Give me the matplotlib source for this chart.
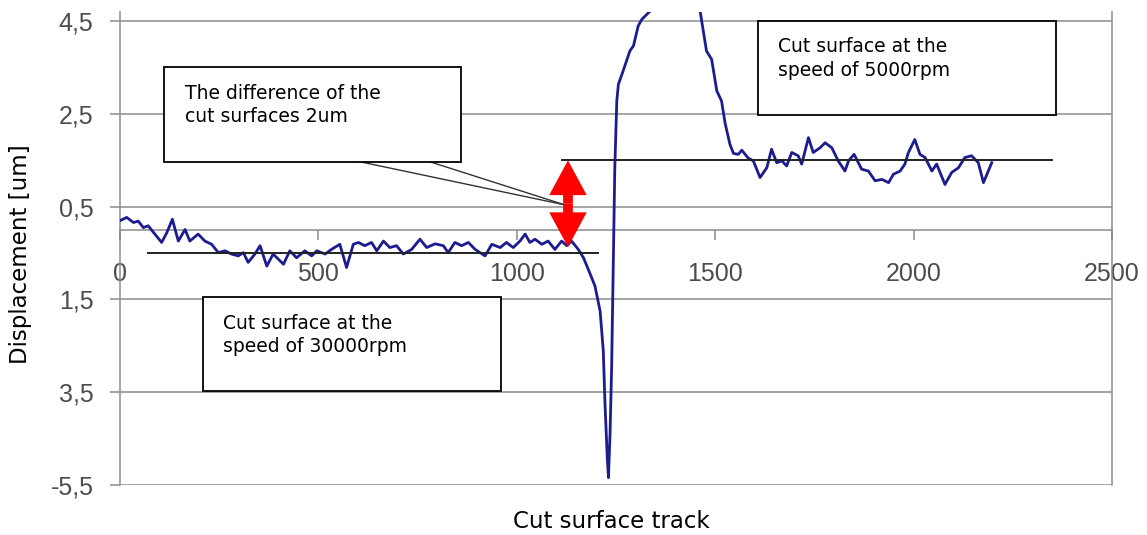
import matplotlib.pyplot as plt
from matplotlib.patches import Rectangle, FancyArrowPatch

track = [0, 17, 34, 46, 59, 71, 88, 105, 118, 132, 147, 164, 176, 197, 214, 231,
         248, 265, 281, 298, 311, 323, 340, 353, 370, 386, 412, 428, 445, 466, 483,
         496, 517, 533, 554, 571, 588, 601, 617, 634, 647, 664, 680, 697, 714, 735,
         756, 773, 794, 815, 827, 844, 861, 878, 895, 920, 937, 958, 974, 991, 1008,
         1021, 1033, 1046, 1063, 1079, 1096, 1113, 1126, 1138, 1155, 1168, 1184,
         1197, 1210, 1218, 1222, 1228, 1231, 1235, 1239, 1243, 1247, 1252, 1256,
         1268, 1285, 1294, 1306, 1315, 1336, 1370, 1400, 1430, 1462, 1470, 1478,
         1491, 1504, 1516, 1525, 1537, 1546, 1558, 1567, 1583, 1596, 1613, 1630,
         1642, 1655, 1668, 1680, 1693, 1709, 1718, 1735, 1747, 1764, 1777, 1794,
         1810, 1827, 1836, 1850, 1869, 1886, 1903, 1920, 1937, 1949, 1966, 1978,
         1987, 2003, 2016, 2029, 2046, 2058, 2079, 2096, 2113, 2129, 2146, 2163,
         2176, 2197]
displacement = [0.20, 0.27, 0.16, 0.19, 0.05, 0.09, -0.09, -0.27, -0.06, 0.23, -0.24,
                0.01, -0.24, -0.09, -0.24, -0.31, -0.49, -0.45, -0.52, -0.56, -0.49,
                -0.70, -0.52, -0.34, -0.78, -0.52, -0.74, -0.45, -0.60, -0.45, -0.56,
                -0.45, -0.52, -0.42, -0.31, -0.81, -0.31, -0.27, -0.34, -0.27, -0.45,
                -0.24, -0.38, -0.34, -0.52, -0.42, -0.20, -0.38, -0.30, -0.34, -0.49,
                -0.27, -0.34, -0.27, -0.42, -0.56, -0.31, -0.38, -0.27, -0.38, -0.24,
                -0.09, -0.27, -0.20, -0.31, -0.24, -0.42, -0.24, -0.34, -0.24, -0.42,
                -0.60, -0.93, -1.21, -1.75, -2.61, -3.69, -4.91, -5.34, -4.40, -2.97,
                -0.81, 1.34, 2.78, 3.14, 3.43, 3.86, 3.97, 4.40, 4.54, 4.72, 5.10, 5.30,
                5.10, 4.72, 4.29, 3.86, 3.68, 3.00, 2.78, 2.30, 1.85, 1.65, 1.63, 1.72,
                1.55, 1.49, 1.13, 1.34, 1.74, 1.45, 1.49, 1.38, 1.67, 1.60, 1.42, 1.99,
                1.67, 1.77, 1.88, 1.77, 1.49, 1.27, 1.49, 1.63, 1.31, 1.27, 1.06, 1.09,
                1.02, 1.20, 1.27, 1.42, 1.67, 1.95, 1.63, 1.56, 1.27, 1.42, 0.98, 1.24,
                1.34, 1.56, 1.60, 1.45, 1.02, 1.45]

x_ticks = [0, 500, 1000, 1500, 2000, 2500]
y_ticks = [4.5, 2.5, 0.5, -1.5, -3.5, -5.5]
y_tick_labels = ['4,5', '2,5', '0,5', '1,5', '3,5', '-5,5']

level_30000 = -0.5   # mean level of the 30000rpm surface
level_5000 = 1.5     # mean level of the 5000rpm surface
arrow_bottom = -0.37

grid_col = '#8c8c8c'

fig = plt.figure(figsize=(11.47, 5.35), dpi=100)
ax = fig.add_axes([0.1046, 0.0935, 0.8649, 0.8841])

ax.plot(track, displacement, color='#1c1c90', lw=2.0, zorder=3)

ax.set_xlim(0, 2500)
ax.set_ylim(-5.5, 4.7)

ax.set_yticks(y_ticks)
ax.set_yticklabels(y_tick_labels)
ax.set_xticks(x_ticks)
ax.yaxis.grid(True, color=grid_col, lw=1.1)
ax.set_axisbelow(True)

for side in ['left', 'right', 'bottom']:
    ax.spines[side].set_color(grid_col)
    ax.spines[side].set_linewidth(1.1)
ax.spines['top'].set_visible(False)
ax.spines['bottom'].set_position(('data', 0))

ax.tick_params(axis='y', direction='out', length=7, width=1.1, color=grid_col,
               pad=12, labelsize=18, labelcolor='#4d4d4d')
ax.tick_params(axis='x', direction='out', length=7, width=1.1, color=grid_col,
               pad=16, labelsize=18, labelcolor='#4d4d4d')
for lab in ax.get_xticklabels() + ax.get_yticklabels():
    lab.set_fontfamily('Liberation Sans')

# reference levels
ax.plot([70, 1204], [level_30000, level_30000], color='#222222', lw=1.4, zorder=4)
ax.plot([1113, 2350], [level_5000, level_5000], color='#222222', lw=1.4, zorder=4)

# red double arrow for the 2um difference
mid = (level_5000 + arrow_bottom) / 2
for end in [level_5000, arrow_bottom]:
    arr = FancyArrowPatch((1129, mid), (1129, end),
                          arrowstyle='simple,head_length=25,head_width=27,tail_width=7',
                          mutation_scale=1, shrinkA=0, shrinkB=0,
                          color='red', lw=0, zorder=6)
    ax.add_patch(arr)

# callout wedge of the first box
ax.plot([605, 1121], [1.47, 0.54], color='#333333', lw=1.0, zorder=5)
ax.plot([781, 1121], [1.47, 0.54], color='#333333', lw=1.0, zorder=5)

# text boxes
boxes = [
    ((111, 1.47), 748, 2.04, (164, 2.69), 'The difference of the\ncut surfaces 2um'),
    ((1608, 2.48), 751, 2.03, (1658, 3.70), 'Cut surface at the\nspeed of 5000rpm'),
    ((209, -3.47), 751, 2.02, (260, -2.27), 'Cut surface at the\nspeed of 30000rpm'),
]
for corner, w, h, txt_pos, txt in boxes:
    ax.add_patch(Rectangle(corner, w, h, facecolor='white', edgecolor='black',
                           lw=1.3, zorder=7, clip_on=False))
    ax.text(txt_pos[0], txt_pos[1], txt, fontsize=13.5, ha='left', va='center',
            linespacing=1.3, zorder=8)

fig.text(21 / 1147, 1 - 254 / 535, 'Displacement [um]', rotation=90,
         fontsize=16.5, ha='center', va='center')
fig.text(611 / 1147, 1 - 521 / 535, 'Cut surface track', fontsize=16.5,
         ha='center', va='center')

plt.savefig('out.png', dpi=100)
